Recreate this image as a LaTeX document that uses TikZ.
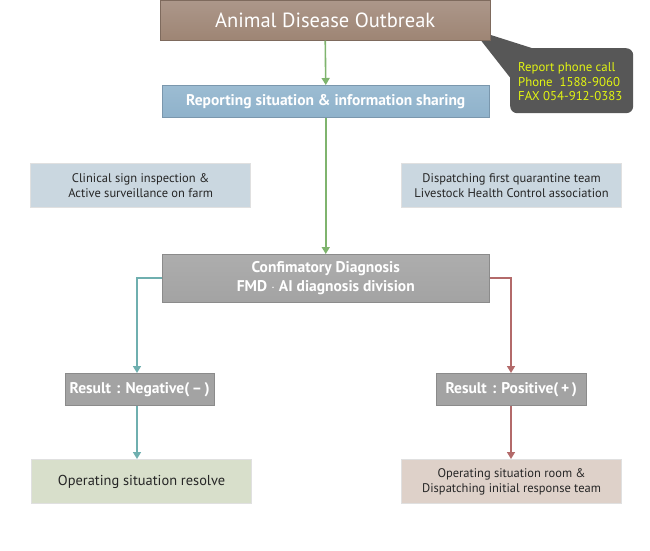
\documentclass[tikz,border=0pt]{standalone}
\usepackage{fontspec}
\setmainfont{PT Sans}
\usetikzlibrary{arrows.meta}
\definecolor{brownA}{HTML}{9E8574}
\definecolor{brownB}{HTML}{AC978A}
\definecolor{blueA}{HTML}{8FB2CB}
\definecolor{blueB}{HTML}{9CBCD2}
\definecolor{greyA}{HTML}{A3A3A3}
\definecolor{greyB}{HTML}{ADADAD}
\definecolor{paleblue}{HTML}{CAD7E0}
\definecolor{palegreen}{HTML}{D8DFCB}
\definecolor{palepink}{HTML}{DED1C9}
\definecolor{callout}{HTML}{575757}
\definecolor{yel}{HTML}{E2F511}
\definecolor{greenline}{HTML}{7FB46E}
\definecolor{tealline}{HTML}{6FAFAF}
\definecolor{redline}{HTML}{B36A6A}
\tikzset{
  x=1pt,y=-1pt,
  headbox/.style={minimum height=#1, inner sep=0pt, text=white, font=\fontsize{15.5}{18}\selectfont\bfseries, align=center},
  lightbox/.style={draw=white!88!black, line width=1.2pt, inner sep=0pt, minimum width=220pt, minimum height=44pt, text=black!85, align=center, font=\fontsize{12.5}{15}\selectfont},
  arr/.style={line width=1.6pt, -{Triangle[length=7pt,width=8pt]}},
}
\begin{document}
\begin{tikzpicture}
\useasboundingbox (0,0) rectangle (650,550);
% callout
\fill[callout] (472,29) -- (538,50) -- (512,80) -- cycle;
\node[fill=callout, rounded corners=7pt, minimum width=123pt, minimum height=65pt, inner sep=0pt, anchor=north west] (call) at (510,48) {};
\node[anchor=west, text=yel, align=left, font=\fontsize{12.8}{14.5}\selectfont, inner sep=0pt] (calltxt) at (518,82) {Report phone call\\Phone\ \ 1588-9060\\FAX 054-912-0383};
% top box
\node[headbox=40pt, minimum width=330pt, top color=brownB, bottom color=brownA, draw=brownA!80!black, line width=0.5pt, font=\fontsize{20.5}{22}\selectfont, anchor=north west] (out) at (160,0) {Animal Disease Outbreak};
\node[headbox=32pt, minimum width=327pt, top color=blueB, bottom color=blueA, draw=blueA!85!black, line width=0.5pt, anchor=north west] (rep) at (162,85) {Reporting situation \& information sharing};
\node[lightbox, fill=paleblue, anchor=north west] (clin) at (30,163) {Clinical sign inspection \&\\Active surveillance on farm};
\node[lightbox, fill=paleblue, anchor=north west] (disp) at (401,163) {Dispatching first quarantine team\\Livestock Health Control association};
\node[headbox=48pt, minimum width=327pt, top color=greyB, bottom color=greyA, draw=greyA!85!black, line width=0.5pt, align=center, anchor=north west, font=\fontsize{15.5}{19}\selectfont\bfseries] (conf) at (162,254) {Confimatory Diagnosis\\FMD\ $\cdot$\ AI diagnosis division};
\node[headbox=32pt, minimum width=149pt, fill=greyA, draw=greyA!85!black, line width=0.5pt, anchor=north west, font=\fontsize{15.5}{18}\selectfont\bfseries] (neg) at (65,373) {Result\,\,:\,\,Negative(\,--\,)};
\node[headbox=32pt, minimum width=150pt, fill=greyA, draw=greyA!85!black, line width=0.5pt, anchor=north west, font=\fontsize{15.5}{18}\selectfont\bfseries] (pos) at (436,373) {Result\,\,:\,\,Positive(\,+\,)};
\node[lightbox, fill=palegreen, anchor=north west, font=\fontsize{14.4}{16}\selectfont] (res) at (31,459) {Operating situation resolve};
\node[lightbox, fill=palepink, anchor=north west] (room) at (401,459) {Operating situation room \&\\Dispatching initial response team};
% connectors
\draw[arr, greenline] (out.south) -- (rep.north);
\draw[arr, greenline] (rep.south) -- (conf.north);
\draw[arr, tealline] (conf.west) -| (neg.north -| 137,0);
\draw[arr, tealline] (neg.south -| 137,0) -- (res.north -| 137,0);
\draw[arr, redline] (conf.east) -| (pos.north -| 511,0);
\draw[arr, redline] (pos.south -| 511,0) -- (room.north -| 511,0);
\end{tikzpicture}
\end{document}
